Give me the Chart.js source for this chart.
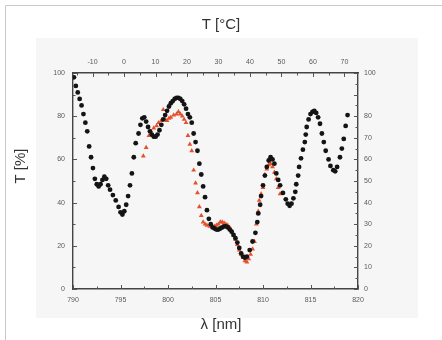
<!DOCTYPE html>
<html>
<head>
<meta charset="utf-8">
<script src="https://cdn.jsdelivr.net/npm/chart.js@4/dist/chart.umd.min.js"></script>
<style>
html,body{margin:0;padding:0;background:#fff;}
canvas{display:block;}
</style>
</head>
<body>
<canvas id="c" width="442" height="340"></canvas>
<script>
// ---- data ----
const blackWavelength = [790.1,790.3,790.5,790.7,790.9,791.1,791.3,791.5,791.7,791.9,792.1,792.3,792.5,792.7,792.9,793.1,793.3,793.5,793.7,793.9,794.2,794.5,794.8,795.0,795.2,795.4,795.6,795.8,796.0,796.2,796.4,796.6,796.9,797.1,797.3,797.5,797.7,797.9,798.1,798.3,798.5,798.7,798.9,799.1,799.3,799.5,799.7,799.9,800.1,800.3,800.5,800.7,800.9,801.1,801.3,801.5,801.7,801.9,802.1,802.3,802.5,802.7,802.9,803.1,803.3,803.5,803.7,803.9,804.1,804.3,804.5,804.7,804.9,805.1,805.3,805.5,805.7,805.9,806.1,806.3,806.5,806.7,806.9,807.1,807.3,807.5,807.7,807.9,808.1,808.3,808.6,808.9,809.2,809.4,809.5,809.7,809.8,810.0,810.2,810.4,810.6,810.8,811.0,811.2,811.4,811.6,811.8,812.1,812.4,812.6,812.8,813.0,813.2,813.4,813.5,813.7,813.8,814.0,814.2,814.4,814.5,814.6,814.8,815.0,815.2,815.4,815.6,815.8,816.0,816.2,816.4,816.6,816.9,817.1,817.4,817.6,817.8,818.1,818.3,818.5,818.7,818.9];
const blackTransmission = [98,94,91,88,85,81,77,73,66,61,56,51,48.5,47.5,48.5,50.5,52,51,48,46,43.5,41,38,35.5,34.5,36,39,43,48,53.5,61,67.5,72,76,79,79.5,77.5,75,73,71.5,70.5,70.5,71.5,73.5,76,78.5,80.5,82.5,84.5,86,87,88,88.5,88.5,88,87,85.5,83.5,81,79.5,77,72,68,64,58,53,47.5,42.5,36.5,32.5,30,28.5,28,27.5,27.5,28,28.5,29,29,28.5,27.5,26.5,25,23.5,21.5,19,16.5,15,14.5,15,18,22,26,31,35,39,43,48,52.5,56.5,59.5,61,60,58,53.5,50.5,48,44.5,41.5,39.5,38.5,39.5,42,45,48.5,52.5,56.5,60.5,64.5,68,71.5,75,78.5,81,82,82.5,81.5,79.5,76.5,72,68,64,60,57,55,54.5,56.5,61,65,69.5,75.5,80.5];

const redWavelength = [797.4,797.7,798.0,798.2,798.5,798.8,799.0,799.3,799.5,799.7,799.9,800.1,800.3,800.6,800.9,801.1,801.3,801.5,801.7,801.9,802.1,802.3,802.5,802.7,802.9,803.1,803.3,803.5,803.7,803.9,804.1,804.4,804.7,804.9,805.1,805.3,805.5,805.7,805.9,806.1,806.3,806.5,806.7,806.9,807.1,807.3,807.5,807.7,807.9,808.1,808.3,808.5,808.7,808.9,809.1,809.3,809.5,809.6,809.8,810.0,810.2,810.4,810.6,810.8,811.0,811.2,811.4,811.6,811.8];
const redTransmission = [61.5,65.5,71,73,74.5,75.5,77,78,83,78.5,78,79,79.5,80.5,81,82,81,80,78.5,77,71,67,64,55,49,44.5,38,34,31,30,29.5,29,28.5,29,29.5,30,31,31,30.5,30,29.5,28.5,27,25,23,20.5,18,16,14.5,13,12.5,14,16,18.5,22,30,36,41,44,47,53,55.5,57.5,58,56.5,54,51,47,44];

const bottomTicks = [790,795,800,805,810,815,820];
const topTicks = [-10,0,10,20,30,40,50,60,70];
const leftTicks = [0,20,40,60,80,100];
const rightTicks = [0,10,20,30,40,50,60,70,80,100];
const yTitle = 'T [%]';

const titleFont = {family:'"Liberation Sans", Arial, sans-serif', size:15, weight:'normal'};

// ---- decorations ----
const frame = {
  id:'frame',
  beforeDraw(chart){
    const ctx = chart.ctx;
    ctx.save();
    ctx.fillStyle = '#f6f6f6';
    ctx.fillRect(36,38,382,280);
    ctx.strokeStyle = '#c9c9c9';
    ctx.lineWidth = 1;
    ctx.beginPath();
    ctx.moveTo(5.5,340); ctx.lineTo(5.5,5.5); ctx.lineTo(442,5.5);
    ctx.stroke();
    ctx.restore();
  }
};

const sideTitle = {
  id:'sideTitle',
  afterDraw(chart){
    const ctx = chart.ctx;
    ctx.save();
    ctx.translate(21, 166);
    ctx.rotate(-Math.PI/2);
    ctx.fillStyle = '#333';
    ctx.font = '15px "Liberation Sans", Arial, sans-serif';
    ctx.textAlign = 'center';
    ctx.textBaseline = 'middle';
    ctx.fillText(yTitle, 0, 0);
    ctx.restore();
  }
};

const inTicks = {
  id:'inTicks',
  afterDraw(chart){
    const ctx = chart.ctx, a = chart.chartArea;
    ctx.save();
    ctx.strokeStyle = '#555';
    ctx.lineWidth = 1;
    function run(scale, step, start, end, len, side){
      for (let v = start; v <= end + 1e-9; v += step){
        const p = Math.round(scale.getPixelForValue(v)) + 0.5;
        ctx.beginPath();
        if (side==='b'){ ctx.moveTo(p,a.bottom); ctx.lineTo(p,a.bottom-len); }
        if (side==='t'){ ctx.moveTo(p,a.top); ctx.lineTo(p,a.top+len); }
        if (side==='l'){ ctx.moveTo(a.left,p); ctx.lineTo(a.left+len,p); }
        if (side==='r'){ ctx.moveTo(a.right,p); ctx.lineTo(a.right-len,p); }
        ctx.stroke();
      }
    }
    const s = chart.scales;
    run(s.x,5,790,820,4,'b'); run(s.x,2.5,792.5,817.5,2.5,'b');
    run(s.x2,10,-10,70,4,'t'); run(s.x2,10,-15,65,2.5,'t');
    run(s.y,20,0,100,4,'l'); run(s.y,20,10,90,2.5,'l');
    run(s.y2,10,0,100,4,'r'); run(s.y2,10,5,95,2.5,'r');
    ctx.restore();
  }
};

const tickFont = {family:'"Liberation Sans", Arial, sans-serif', size:7};
const tickColor = '#5a5a5a';
const borderCfg = {display:true, color:'#444', width:1.4};
const gridCfg = {display:true, drawOnChartArea:false, drawTicks:false, color:'rgba(0,0,0,0)'};

function setTicks(list){ return function(scale){ scale.ticks = list.map(v=>({value:v})); }; }

new Chart(document.getElementById('c'), {
  type:'scatter',
  data:{
    datasets:[
      {
        label:'circles',
        data: blackWavelength.map((x,i)=>({x, y: blackTransmission[i]})),
        xAxisID:'x', yAxisID:'y',
        pointStyle:'circle', pointRadius:2.4, pointBorderWidth:0,
        backgroundColor:'#141414', borderColor:'#141414', showLine:false
      },
      {
        label:'triangles',
        data: redWavelength.map((x,i)=>({x, y: redTransmission[i]})),
        xAxisID:'x', yAxisID:'y',
        pointStyle:'triangle', pointRadius:2.8, pointBorderWidth:0,
        backgroundColor:'#e4502c', borderColor:'#e4502c', showLine:false
      }
    ]
  },
  options:{
    responsive:false, animation:false, devicePixelRatio:1,
    layout:{padding:0},
    plugins:{
      legend:{display:false}, tooltip:{enabled:false},
      title:{display:true, text:'T [°C]', position:'top', fullSize:true, color:'#333',
        font:titleFont, padding:{top:16,bottom:0}},
      subtitle:{display:true, text:'λ [nm]', position:'bottom', fullSize:true, color:'#333',
        font:titleFont, padding:{top:0,bottom:6}}
    },
    scales:{
      x:{type:'linear', position:'bottom', min:790, max:820,
        afterBuildTicks:setTicks(bottomTicks),
        afterFit(s){ s.height = 27; },
        ticks:{font:tickFont, color:tickColor, padding:7, maxRotation:0, autoSkip:false},
        grid:gridCfg, border:borderCfg},
      x2:{type:'linear', position:'top', min:-16.2, max:74.3,
        afterBuildTicks:setTicks(topTicks),
        afterFit(s){ s.height = 39; },
        ticks:{font:tickFont, color:tickColor, padding:7, maxRotation:0, autoSkip:false},
        grid:gridCfg, border:borderCfg},
      y:{type:'linear', position:'left', min:0, max:100,
        afterBuildTicks:setTicks(leftTicks),
        afterFit(s){ s.width = 73; },
        ticks:{font:tickFont, color:tickColor, padding:8, autoSkip:false},
        grid:gridCfg, border:borderCfg},
      y2:{type:'linear', position:'right', min:0, max:100,
        afterBuildTicks:setTicks(rightTicks),
        afterFit(s){ s.width = 84; },
        ticks:{font:tickFont, color:tickColor, padding:6, autoSkip:false},
        grid:gridCfg, border:borderCfg}
    }
  },
  plugins:[frame, inTicks, sideTitle]
});
</script>
</body>
</html>
